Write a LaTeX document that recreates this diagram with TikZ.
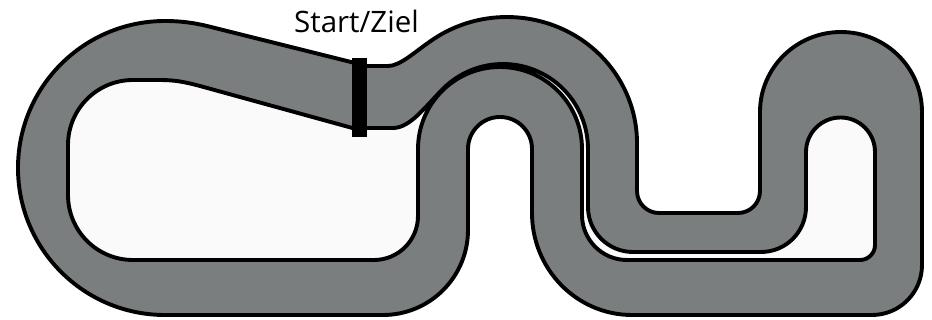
\documentclass[tikz,border=0pt]{standalone}
\usepackage{fontspec}
\setsansfont{Open Sans}
\definecolor{asphalt}{HTML}{7A7E7F}
\definecolor{infield}{HTML}{FAFAFA}

\begin{document}
\begin{tikzpicture}[
  x=1pt, y=-1pt,
  track/.style={draw, line width=3.9pt, fill=asphalt, line join=round},
  island/.style={draw, line width=3.9pt, fill=infield, line join=round},
  finishbar/.style={fill=black, inner sep=0pt, minimum width=15pt, minimum height=79pt},
  caption/.style={font=\sffamily\fontsize{29.5}{31}\selectfont, inner sep=0pt, anchor=base}
]
  \useasboundingbox (0,0) rectangle (932,320);

  % outer edge of the track
  \path[track] (165,21) .. controls (185,21) and (200,24) .. (215,28)
    -- (367,66) -- (388,66) .. controls (400,66) and (414,52.5) .. (430.6,41.1)
    arc[start angle=234, end angle=360, x radius=130, y radius=126]
    -- (637,191) arc[start angle=180, end angle=90, radius=22]
    -- (738,213) arc[start angle=90, end angle=0, radius=22]
    -- (760,112) arc[start angle=180, end angle=360, x radius=81, y radius=80]
    -- (922,265) arc[start angle=0, end angle=90, radius=50]
    -- (632,315) arc[start angle=90, end angle=180, x radius=100, y radius=102]
    -- (532,149) arc[start angle=0, end angle=-180, radius=32]
    -- (468,230) arc[start angle=0, end angle=90, radius=85]
    -- (165,315) arc[start angle=90, end angle=270, radius=147]
    -- cycle;

  % infield, with the thin gap between the lanes
  \path[island] (133,80) -- (160,80) .. controls (175,80) and (185,82) .. (200,86)
    -- (356,129) -- (367,128) -- (393,128)
    .. controls (410,128) and (425,107) .. (442.9,88.9)
    arc[start angle=225, end angle=360, radius=85]
    -- (588,207) arc[start angle=180, end angle=90, radius=45]
    -- (761,252) arc[start angle=90, end angle=0, radius=45]
    -- (806,152) arc[start angle=180, end angle=360, radius=34.5]
    -- (875,245) arc[start angle=0, end angle=90, radius=15]
    -- (627,260) arc[start angle=90, end angle=180, radius=45]
    -- (582,149) arc[start angle=0, end angle=-180, radius=82]
    -- (418,216) arc[start angle=0, end angle=90, radius=44]
    -- (133,260) arc[start angle=90, end angle=180, radius=65]
    -- (68,145) arc[start angle=180, end angle=270, radius=65]
    -- cycle;

  % start / finish line
  \node[finishbar] (startbar) at (359.5,97.5) {};
  \node[caption] (startlabel) at (356.5,33) {Start/Ziel};
\end{tikzpicture}
\end{document}
